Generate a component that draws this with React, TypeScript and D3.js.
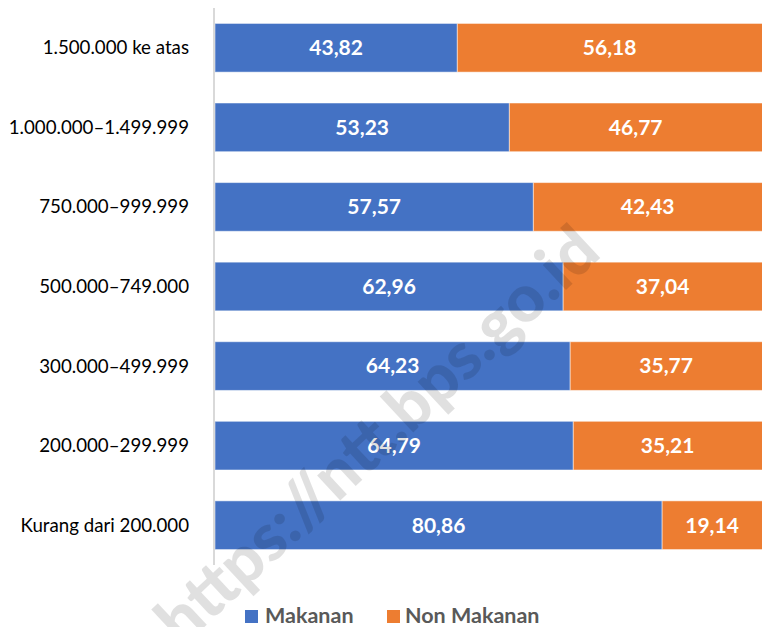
import React from 'react';
import * as d3 from 'd3';

const categories = [
  '1.500.000 ke atas',
  '1.000.000–1.499.999',
  '750.000–999.999',
  '500.000–749.000',
  '300.000–499.999',
  '200.000–299.999',
  'Kurang dari 200.000',
];
const makanan = [43.82, 53.23, 57.57, 62.96, 64.23, 64.79, 80.86];
const nonMakanan = [56.18, 46.77, 42.43, 37.04, 35.77, 35.21, 19.14];
const seriesNames = ['Makanan', 'Non Makanan'];
const colors = ['#4472c4', '#ed7d31'];

const W = 762;
const H = 627;
const FONT = 'Lato, "Open Sans", sans-serif';

const fmt = (v: number) => v.toFixed(2).replace('.', ',');

export default function App() {
  const x = d3.scaleLinear().domain([0, 100]).range([215, 768]);
  const y = d3
    .scaleBand()
    .domain(categories)
    .range([8, 565])
    .paddingInner(0.388)
    .paddingOuter(0.194);

  const rows = categories.map((c, i) => ({ cat: c, vals: [makanan[i], nonMakanan[i]] }));

  return (
    <svg
      width={W}
      height={H}
      style={{ position: 'absolute', left: 0, top: 0, background: '#fff' }}
      fontFamily={FONT}
    >
      {rows.map((r) => {
        let acc = 0;
        return (
          <g key={r.cat}>
            {r.vals.map((v, k) => {
              const x0 = x(acc);
              acc += v;
              const x1 = x(acc);
              return (
                <g key={k}>
                  <rect
                    x={x0}
                    y={y(r.cat)}
                    width={x1 - x0}
                    height={y.bandwidth()}
                    fill={colors[k]}
                    stroke="#fff"
                    strokeOpacity={0.5}
                    strokeWidth={1}
                  />
                  <text
                    x={(x0 + Math.min(x1, W)) / 2}
                    y={(y(r.cat) as number) + y.bandwidth() / 2}
                    dy="0.35em"
                    textAnchor="middle"
                    fill="#fff"
                    fontWeight="bold"
                    fontSize={21}
                  >
                    {fmt(v)}
                  </text>
                </g>
              );
            })}
            <text
              x={189}
              y={(y(r.cat) as number) + y.bandwidth() / 2}
              dy="0.35em"
              textAnchor="end"
              fill="#000"
              fontSize={18.7}
            >
              {r.cat}
            </text>
          </g>
        );
      })}

      <line x1={214} x2={214} y1={8} y2={565} stroke="#d9d9d9" strokeWidth={2} />

      {/* legend */}
      <g fontWeight="bold" fontSize={21.5} fill="#595959">
        <rect x={245} y={610} width={13} height={13} fill={colors[0]} />
        <text x={265} y={615.5} dy="0.35em">{seriesNames[0]}</text>
        <rect x={387} y={610} width={13} height={13} fill={colors[1]} />
        <text x={405} y={615.5} dy="0.35em">{seriesNames[1]}</text>
      </g>

      {/* watermark */}
      <text
        transform="translate(182,648) rotate(-43)"
        fontSize={66}
        fontWeight={900}
        fill="#000"
        fillOpacity={0.12}
      >
        https://ntt.bps.go.id
      </text>
    </svg>
  );
}
